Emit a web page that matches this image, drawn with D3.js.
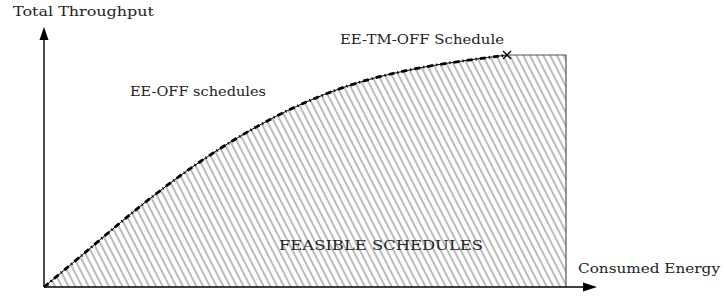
<!DOCTYPE html>
<html>
<head>
<meta charset="utf-8">
<script src="https://cdn.jsdelivr.net/npm/d3@7"></script>
<style>
  body { margin: 0; background: #fff; }
</style>
</head>
<body>
<svg id="chart" width="724" height="296"></svg>
<script>
"use strict";

// EE-OFF curve (energy, throughput), normalised to 0..100
const energy = [0, 6.9, 14.6, 21.6, 29.9, 39.5, 49.0, 59.9, 72.6, 88.7];
const throughput = [0, 13.0, 27.7, 40.4, 54.0, 67.5, 78.5, 87.9, 94.7, 100];
const maxEnergy = 100;
const maxThroughput = 100;

const svg = d3.select("#chart");
const g = svg.append("g");

const x = d3.scaleLinear().domain([0, maxEnergy]).range([44, 566]);
const y = d3.scaleLinear().domain([0, maxThroughput]).range([287, 55]);

const curvePts = energy.map((e, i) => [e, throughput[i]]);

// hatch pattern
const defs = svg.append("defs");
const pat = defs.append("pattern")
  .attr("id", "hatch")
  .attr("patternUnits", "userSpaceOnUse")
  .attr("width", 6)
  .attr("height", 10)
  .attr("patternTransform", "rotate(-27)");
pat.append("line")
  .attr("x1", 3).attr("y1", -1).attr("x2", 3).attr("y2", 11)
  .attr("stroke", "#8e8e8e")
  .attr("stroke-width", 1.2);

const upper = d3.line().x((d) => x(d[0])).y((d) => y(d[1])).curve(d3.curveCatmullRom.alpha(0.5));
const straight = d3.line().x((d) => x(d[0])).y((d) => y(d[1]));

// feasible region
g.append("path")
  .attr("d", upper(curvePts) + straight([[maxEnergy, maxThroughput], [maxEnergy, 0], [0, 0]]).replace("M", "L") + "Z")
  .attr("fill", "url(#hatch)")
  .attr("stroke", "none");

// region border (top + right)
g.append("path")
  .attr("d", straight([[energy[energy.length - 1], maxThroughput], [maxEnergy, maxThroughput], [maxEnergy, 0]]))
  .attr("fill", "none")
  .attr("stroke", "#555")
  .attr("stroke-width", 1.2);

// EE-OFF curve: thin solid + thick dash-dot
g.append("path")
  .attr("d", upper(curvePts))
  .attr("fill", "none")
  .attr("stroke", "#000")
  .attr("stroke-width", 1);
g.append("path")
  .attr("d", upper(curvePts))
  .attr("fill", "none")
  .attr("stroke", "#000")
  .attr("stroke-width", 2.8)
  .attr("stroke-dasharray", "6,3,1.2,3");

// EE-TM-OFF point
const px = x(energy[energy.length - 1]);
const py = y(throughput[throughput.length - 1]);
g.append("path")
  .attr("d", `M${px - 4},${py - 4}L${px + 4},${py + 4}M${px - 4},${py + 4}L${px + 4},${py - 4}`)
  .attr("stroke", "#000")
  .attr("stroke-width", 1.3);

// axes with arrows
const ox = x(0), oy = y(0);
g.append("line")
  .attr("x1", ox).attr("y1", oy).attr("x2", ox).attr("y2", 34)
  .attr("stroke", "#000").attr("stroke-width", 1.4);
g.append("path")
  .attr("d", `M${ox},27L${ox - 4.5},40L${ox + 4.5},40Z`)
  .attr("fill", "#000");
g.append("line")
  .attr("x1", ox).attr("y1", oy).attr("x2", 590).attr("y2", oy)
  .attr("stroke", "#000").attr("stroke-width", 1.4);
g.append("path")
  .attr("d", `M597,${oy}L583,${oy - 4.5}L583,${oy + 4.5}Z`)
  .attr("fill", "#000");

// labels
const labels = [
  { t: "Total Throughput", x: 13, y: 16, w: 141 },
  { t: "EE-TM-OFF Schedule", x: 340, y: 44, w: 164 },
  { t: "EE-OFF schedules", x: 130, y: 96, w: 136 },
  { t: "FEASIBLE SCHEDULES", x: 279, y: 250, w: 204 },
  { t: "Consumed Energy", x: 578, y: 273, w: 142 },
];
g.selectAll("text.lbl")
  .data(labels)
  .enter()
  .append("text")
  .attr("class", "lbl")
  .attr("x", (d) => d.x)
  .attr("y", (d) => d.y)
  .attr("font-family", "'DejaVu Serif', serif")
  .attr("font-size", 13.5)
  .attr("fill", "#222")
  .attr("textLength", (d) => d.w)
  .attr("lengthAdjust", "spacingAndGlyphs")
  .text((d) => d.t);
</script>
</body>
</html>
